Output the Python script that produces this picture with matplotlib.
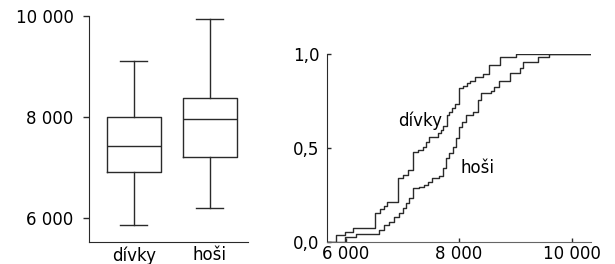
import matplotlib.pyplot as plt

# box plot summary (min whisker, Q1, median, Q3, max whisker)
groups = ['dívky', 'hoši']
whis_lo = [5855, 6204]
q1 = [6905, 7208]
med = [7432, 7954]
q3 = [7994, 8376]
whis_hi = [9103, 9940]

divky_x = [5830, 5990, 6130, 6520, 6600, 6680, 6725, 6925, 7006, 7095, 7195, 7271,
           7359, 7418, 7465, 7624, 7683, 7724, 7783, 7830, 7877, 7936, 8007, 8077,
           8136, 8195, 8289, 8418, 8536, 8724, 9001]
divky_F = [0.039, 0.055, 0.076, 0.158, 0.175, 0.195, 0.216, 0.340, 0.358, 0.384, 0.481, 0.490,
           0.508, 0.535, 0.558, 0.579, 0.596, 0.618, 0.676, 0.694, 0.712, 0.735, 0.818, 0.830,
           0.844, 0.858, 0.880, 0.894, 0.942, 0.982, 1.0]
hosi_x = [5990, 6188, 6594, 6683, 6771, 6859, 6947, 7006, 7065, 7112, 7195, 7300, 7389,
          7448, 7524, 7650, 7712, 7771, 7830, 7889, 7948, 7995, 8054, 8124, 8242, 8330,
          8389, 8566, 8624, 8713, 8900, 9077, 9130, 9394, 9595]
hosi_F = [0.027, 0.046, 0.065, 0.092, 0.110, 0.136, 0.154, 0.180, 0.207, 0.234, 0.287, 0.296, 0.304,
          0.322, 0.340, 0.352, 0.393, 0.446, 0.473, 0.508, 0.552, 0.614, 0.641, 0.676, 0.694, 0.756,
          0.791, 0.805, 0.826, 0.858, 0.897, 0.924, 0.959, 0.982, 1.0]

box_ticks = [6000, 8000, 10000]
box_ticklabels = ['6 000', '8 000', '10 000']
cdf_xticks = [6000, 8000, 10000]
cdf_xticklabels = ['6 000', '8 000', '10 000']
cdf_yticks = [0, 0.5, 1.0]
cdf_yticklabels = ['0,0', '0,5', '1,0']

plt.rcParams['font.family'] = 'DejaVu Sans'
plt.rcParams['font.size'] = 12
lc = '#2a2a2a'

fig = plt.figure(figsize=(6.15, 2.64), dpi=100)

# left: box plots
ax1 = fig.add_axes([0.1447, 0.0833, 0.2585, 0.8561])
stats = []
for i in range(len(groups)):
    stats.append(dict(label=groups[i], whislo=whis_lo[i], q1=q1[i], med=med[i],
                      q3=q3[i], whishi=whis_hi[i], fliers=[]))
ax1.bxp(stats, positions=[1, 2], widths=0.71, showfliers=False,
        boxprops=dict(color=lc, lw=1), medianprops=dict(color=lc, lw=1),
        whiskerprops=dict(color=lc, lw=1), capprops=dict(color=lc, lw=1))
ax1.set_xlim(0.408, 2.5)
ax1.set_ylim(5525, 10000)
ax1.set_yticks(box_ticks)
ax1.set_yticklabels(box_ticklabels)
ax1.tick_params(axis='y', direction='out', length=4, width=1, color=lc, pad=7)
ax1.tick_params(axis='x', length=0, pad=3)
for s in ['top', 'right']:
    ax1.spines[s].set_visible(False)
for s in ['left', 'bottom']:
    ax1.spines[s].set_color(lc)

# right: distribution functions
ax2 = fig.add_axes([0.5312, 0.0822, 0.4293, 0.7133])
x_lo, x_hi = 5665, 10325
ax2.plot([x_lo] + divky_x + [x_hi], [0] + divky_F + [1.0], drawstyle='steps-post', color=lc, lw=1)
ax2.plot([x_lo] + hosi_x + [x_hi], [0] + hosi_F + [1.0], drawstyle='steps-post', color=lc, lw=1)
ax2.text(7321, 0.646, 'dívky', ha='center', va='center')
ax2.text(8327, 0.395, 'hoši', ha='center', va='center')
ax2.set_xlim(x_lo, x_hi)
ax2.set_ylim(0, 1.0)
ax2.set_xticks(cdf_xticks)
ax2.set_xticklabels(cdf_xticklabels)
ax2.set_yticks(cdf_yticks)
ax2.set_yticklabels(cdf_yticklabels)
ax2.tick_params(direction='in', length=3, width=1, color=lc)
ax2.tick_params(axis='y', pad=5)
ax2.tick_params(axis='x', pad=2)
for s in ['top', 'right']:
    ax2.spines[s].set_visible(False)
ax2.spines['left'].set_color(lc)
ax2.spines['bottom'].set_color('#666666')

fig.savefig('out.png', dpi=100)
